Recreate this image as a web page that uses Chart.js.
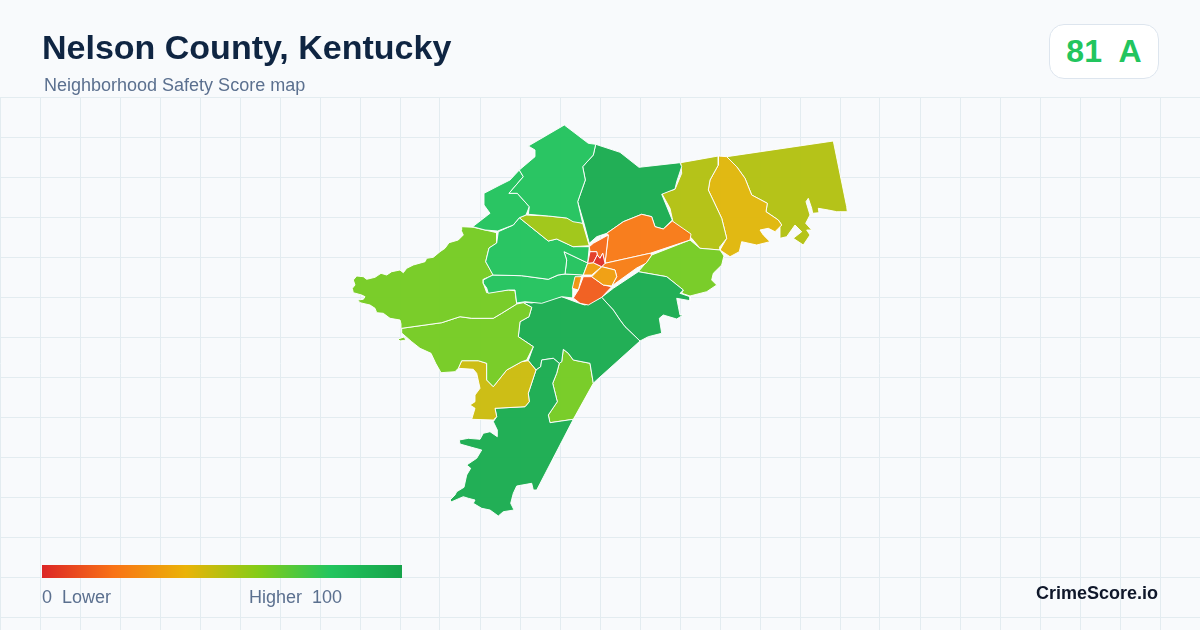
<!DOCTYPE html>
<html>
<head>
<meta charset="utf-8">
<title>Nelson County, Kentucky</title>
<script src="https://cdn.jsdelivr.net/npm/chart.js@4/dist/chart.umd.min.js"></script>
<style>
  html, body { margin: 0; padding: 0; background: #f8fafc; }
  body { position: relative; width: 1200px; height: 630px; overflow: hidden; font-family: "Liberation Sans", Arial, sans-serif; }
  canvas { position: absolute; left: 0; top: 0; }
  .txt { position: absolute; white-space: pre; line-height: 1; }
  #title { left: 42px; top: 30px; font-size: 34px; font-weight: 700; color: #0f2542; }
  #subtitle { left: 44px; top: 76px; font-size: 18px; color: #5b708f; }
  #badge { position: absolute; left: 1049px; top: 24px; width: 108px; height: 53px; background: #fff; border: 1px solid #dde5ee; border-radius: 15px; text-align: center; font-size: 32px; line-height: 52px; font-weight: 700; color: #22c55e; white-space: pre; }
  #bar { position: absolute; left: 42px; top: 565px; width: 360px; height: 13px; }
  #low { left: 42px; top: 588px; font-size: 18px; color: #5b708f; }
  #high { left: 249px; top: 588px; font-size: 18px; color: #5b708f; }
  #brand { right: 42px; top: 584px; font-size: 18px; font-weight: 700; color: #0f172a; }
</style>
</head>
<body>
<canvas id="mapChart" width="1200" height="630"></canvas>
<div class="txt" id="title">Nelson County, Kentucky</div>
<div class="txt" id="subtitle">Neighborhood Safety Score map</div>
<div id="badge">81  A</div>
<div id="bar"></div>
<div class="txt" id="low">0  Lower</div>
<div class="txt" id="high">Higher  100</div>
<div class="txt" id="brand">CrimeScore.io</div>
<script>
// tract outlines, in map units
const northGreen = [[564.3,125],[588.3,143.3],[595.7,144.3],[593.3,155],[582.7,166.7],[585.3,180],[577.7,201.7],[582.7,223.3],[573,221.7],[566.7,218],[548.3,216],[528.3,214.3],[529.3,206.7],[517.3,193.3],[509,193.3],[523.3,176.7],[519.3,170],[535,156.7],[535,150],[528.3,146]];
const northwestGreen = [[519.3,170],[523.3,176.7],[509,193.3],[517.3,193.3],[529.3,206.7],[526,215],[519.3,217.7],[513.3,225],[497.7,231],[485,230],[472.7,226.7],[490,213.3],[484,205],[484,193.3],[500,185],[510,180]];
const northDark = [[595.7,144.3],[620,152.3],[639,167.3],[680,162.7],[681.7,166.7],[676.7,181.7],[675,189],[661.7,194.3],[672.3,220],[663.3,229],[655,226.7],[651.7,216.7],[641.7,214.3],[623.3,221.7],[606.7,233.3],[596.7,236.7],[589.3,243.3],[584,223.3],[577.7,201.7],[585.3,180],[582.7,166.7],[593.3,155]];
const northOlive = [[526,215],[548.3,216],[566.7,218],[582.7,223.3],[589.3,245.7],[573,246.7],[556.7,239],[548.3,241],[519.3,217.7]];
const centralWest = [[519.3,217.7],[548.3,241],[556.7,239],[573.3,246.7],[589.3,246.7],[587.7,263],[564,251.7],[566.7,260],[565,274],[558,275],[548.3,279.3],[521.7,275.7],[493,275],[485.7,261.7],[489,248],[496.7,243],[498.3,231.7],[513.3,225]];
const centralInner = [[564,251.7],[587.7,263],[583.3,275],[565,274],[566.7,260]];
const westMiddle = [[483.3,280],[488.3,277.3],[493,275],[521.7,275.7],[548.3,279.3],[558.3,275],[565,274],[584,275],[580,276.7],[573.3,288],[573,298],[561.7,296.7],[541.7,303.3],[525,301.7],[516.7,303],[515,290],[508.3,290],[488.3,293.3],[486.7,288],[483,283]];
const westLime = [[461.7,226.7],[473.3,227.3],[496.7,232.7],[496.7,243.3],[489,248],[485.7,261.7],[493.3,275],[483.3,279.3],[483.3,283.3],[486.7,292.7],[508.3,290],[515,290.7],[516.7,304],[501.7,313.3],[493.3,318.3],[471.7,318.3],[460,316.7],[441.7,322.7],[401.7,328.3],[401,324],[400,320],[390,318.3],[383.3,313.3],[376.7,312.7],[375,308.3],[370,305],[360,302.7],[357.7,300],[363.3,299.3],[365,296.7],[361.7,295],[353.3,292.7],[352.3,288.3],[355,285],[353.3,280],[356.7,276],[363.3,276.7],[366.7,279.3],[375,277.3],[381,273.3],[386.7,275],[391.7,271.7],[400,270],[403.3,272.7],[406.7,268.3],[413.3,265],[425,261.7],[426.7,258.3],[433.3,257.3],[440,251.7],[445,248.3],[449,242.7],[458.3,240],[463.3,235],[461,230]];
const southwestLime = [[401.7,328.3],[441.7,322.7],[460,316.7],[471.7,318.3],[493.3,318.3],[501.7,313.3],[516.7,304],[523.3,302.7],[531.7,307.3],[529,316.7],[520,321.7],[518.3,336.7],[523.3,340],[533.3,346.7],[526.7,360],[521.7,361.7],[506.7,370],[493.3,386.7],[486.7,380],[486.7,363.3],[478.3,360.7],[461.7,360.7],[458.3,368.3],[455,371.7],[441,372.7],[435.7,363.3],[431,353.3],[420,348.3],[411.7,341.7],[401.7,333]];
const limeIsland = [[398,339],[404,337],[406,340],[400,341]];
const southwestYellow = [[461.7,360.7],[478.3,360.7],[486.7,363.3],[486.7,380],[493.3,386.7],[506.7,370],[521.7,361.7],[528.3,360.7],[536,370],[528.3,393.3],[529.3,401.7],[525,406.7],[495,408.3],[496.7,416.7],[493.3,420],[471.7,419.3],[475,408.3],[470,405],[475,401.7],[475,395],[480,388.3],[476.7,373.3],[473.3,369.3],[458.3,368.3]];
const southDark = [[541.7,360],[553.3,358.3],[559.3,363.3],[556.7,373.3],[552.7,383.3],[557.3,401.7],[548.3,415],[550,422.7],[573.3,419.3],[536.7,490],[533.3,490],[531.7,483.3],[516.7,486],[513.3,493.3],[510.7,503.3],[514,510],[503.3,511.7],[498.3,516],[490,510],[481.7,508.3],[473.3,503.3],[475,500],[468.3,498.3],[463.3,496.7],[451.7,501.7],[450,500],[455,495],[456.7,491.7],[464,487.3],[466.7,475],[470.7,468.3],[466.7,465],[476.7,458.3],[481.7,450],[471.7,447.3],[460,444],[459.3,440],[468.3,438.3],[480,439.3],[483.3,433.3],[490,431.7],[497.3,436.7],[497.3,430],[493.3,421.7],[496.7,416.7],[495,408.3],[525,406.7],[529.3,401.7],[528.3,393.3],[536,370],[540.7,366.7]];
const middleDark = [[520,301.7],[531.7,303],[561.7,296.7],[579.3,303.3],[585,305],[601.7,297.3],[613.3,310],[620,320],[625,326.7],[640,341],[596.7,380],[593.3,383.3],[590,363.3],[573.3,360],[568.3,353.3],[563.3,349.3],[561.7,361.7],[559.3,363.3],[553.3,358.3],[541.7,360],[540.7,366.7],[536,370],[528.3,360.7],[533.3,346.7],[523.3,340],[518.3,336.7],[520,321.7],[529,316.7],[531.7,307.3],[523.3,302.7]];
const southLime = [[563.3,349.3],[568.3,353.3],[573.3,360],[590,363.3],[593.3,383.3],[573.3,419.3],[550,422.7],[548.3,415],[557.3,401.7],[552.7,383.3],[556.7,373.3],[559.3,363.3],[561.7,361.7]];
const southeastDark = [[601.7,297.3],[613.3,288.3],[638.3,271.7],[666.7,276.7],[683.3,290],[680,293.3],[690,296.7],[690,300.7],[676.7,298.3],[680,315],[683.3,315],[676.7,319],[663.3,315],[659.3,318.3],[661.7,333.3],[648.3,336.7],[640,341],[625,326.7],[620,320],[613.3,310]];
const eastLime = [[690,240],[700,248.3],[720,250],[724,256],[723.3,258.3],[721.7,265],[713.3,273.3],[711.7,280],[716.7,285],[706.7,291.7],[690,296],[681.7,293.3],[683.3,290],[666.7,276.7],[638.3,271.7],[648.3,260],[651.7,255]];
const bigOrange = [[606.7,233.3],[623.3,221.7],[641.7,214.3],[651.7,216.7],[655,226.7],[663.3,229],[672.3,221],[691,234],[690,240],[650,253.3],[605,263.3],[608.3,235]];
const orangeStrip = [[605,263.3],[650,253.3],[651.7,255],[646,263.3],[636.7,268],[611.7,286],[616.7,276.7],[615,270],[601.7,266.7]];
const downtownOrange = [[589.3,246.7],[593.3,243.3],[608.3,235],[605,263.3],[602.7,253.3],[600,258.3],[597.3,255],[596.7,251.7],[590,251.7]];
const downtownRed = [[593.3,262.7],[597.3,255],[600,258.3],[602.7,253.3],[605,263.3],[601.7,266.7]];
const downtownBlock = [[590,251.7],[596.7,251.7],[597.3,255],[593.3,262.7],[587.7,263.3]];
const downtownYellowA = [[587.7,263.3],[593.3,262.7],[601.7,266.7],[591.7,275],[583.3,275]];
const downtownYellowB = [[601.7,266.7],[615,270],[616.7,276.7],[611.7,286],[603.3,285],[591.7,276.7]];
const downtownSliver = [[575,276.7],[581.7,276.7],[578.3,290],[572.3,288.3]];
const southTownOrange = [[583.3,276.7],[591.7,276.7],[603.3,285],[611.7,286.7],[601.7,297.3],[588.3,305],[580,303.3],[573.3,298],[578.3,290]];
const eastOlive = [[680.7,162.7],[718.3,156],[718.3,165],[710,180],[708.3,190],[721.7,218.3],[726.7,238.3],[720,246.7],[720,250],[700,248.3],[691.7,238.3],[673.3,223.3],[670,208.3],[661.7,193.3],[675,189.3],[681.7,173.3]];
const eastYellow = [[718.3,156],[726.7,156.7],[736.7,166.7],[745,178.3],[751.7,195],[767.3,203.3],[766,211.7],[778.3,220],[781.7,225],[775,231.7],[768.3,228.3],[760,230],[763.3,235],[770,241.7],[756.7,245],[741.7,241.7],[739.3,251.7],[730,256.7],[720,250],[726.7,238.3],[721.7,218.3],[708.3,190],[710,180],[718.3,165]];
const farEastOlive = [[726.7,156.7],[833.3,141],[846.7,206.7],[847.3,211.7],[836.7,211.7],[828.3,210],[818.3,208.3],[819,212.7],[812.7,213.3],[811.7,208.3],[808.3,198.3],[806,201.7],[810,215],[805.7,223.3],[811.7,230],[806.7,230],[810,235],[803.3,245],[793.3,238.3],[801.7,231.7],[795,225],[786.7,236.7],[780,238.3],[780,226.7],[781.7,225],[778.3,220],[766,211.7],[767.3,203.3],[751.7,195],[745,178.3],[736.7,166.7]];

const tracts = [downtownRed, downtownBlock, downtownOrange, downtownYellowA, downtownYellowB, downtownSliver, southTownOrange, orangeStrip, bigOrange,
  northGreen, northwestGreen, northDark, northOlive, centralWest, centralInner, westMiddle, westLime, southwestLime, limeIsland, southwestYellow,
  southDark, middleDark, southLime, southeastDark, eastLime, eastOlive, eastYellow, farEastOlive];
const tractScores = [2, 5, 18, 33, 33, 30, 14, 23, 22,
  81, 81, 95, 55, 81, 81, 81, 63, 63, 63, 46,
  95, 95, 63, 95, 63, 51, 42, 51];

const gridX = [0,40,80,120,160,200,240,280,320,360,400,440,480,520,560,600,640,680,720,760,800,840,880,920,960,1000,1040,1080,1120,1160,1200];
const gridY = [97,137,177,217,257,297,337,377,417,457,497,537,577,617];

const rampStops = [0, 20, 40, 60, 80, 100];
const rampColors = ['#dc2626', '#f97316', '#eab308', '#84cc16', '#22c55e', '#16a34a'];

function hexToRgb(hex) {
  return [1, 3, 5].map(i => parseInt(hex.slice(i, i + 2), 16));
}

function scoreColor(score) {
  let i = 0;
  while (i < rampStops.length - 2 && score > rampStops[i + 1]) i++;
  const t = (score - rampStops[i]) / (rampStops[i + 1] - rampStops[i]);
  const a = hexToRgb(rampColors[i]);
  const b = hexToRgb(rampColors[i + 1]);
  const c = a.map((v, k) => Math.round(v + (b[k] - v) * t));
  return `rgba(${c[0]},${c[1]},${c[2]},0.96)`;
}

document.getElementById('bar').style.background =
  'linear-gradient(90deg,' + rampColors.map((c, i) => `${c} ${rampStops[i]}%`).join(',') + ')';

new Chart(document.getElementById('mapChart'), {
  type: 'scatter',
  data: {
    datasets: tracts.map((shape, i) => ({
      data: shape.concat([shape[0]]).map(p => ({ x: p[0], y: p[1] })),
      showLine: true,
      fill: 'shape',
      tension: 0,
      pointRadius: 0,
      borderWidth: 1,
      borderColor: 'rgba(255,255,255,0.92)',
      backgroundColor: scoreColor(tractScores[i])
    }))
  },
  options: {
    responsive: false,
    animation: false,
    layout: { padding: { top: 97 } },
    plugins: { legend: { display: false }, tooltip: { enabled: false } },
    scales: {
      x: {
        type: 'linear', min: 0, max: 1200,
        afterBuildTicks: scale => { scale.ticks = gridX.map(v => ({ value: v })); },
        ticks: { display: false },
        border: { display: false },
        grid: { color: '#e3ecf0', lineWidth: 1, drawTicks: false }
      },
      y: {
        type: 'linear', reverse: true, min: 97, max: 630,
        afterBuildTicks: scale => { scale.ticks = gridY.map(v => ({ value: v })); },
        ticks: { display: false },
        border: { display: false },
        grid: { color: '#e3ecf0', lineWidth: 1, drawTicks: false }
      }
    }
  }
});
</script>
</body>
</html>
